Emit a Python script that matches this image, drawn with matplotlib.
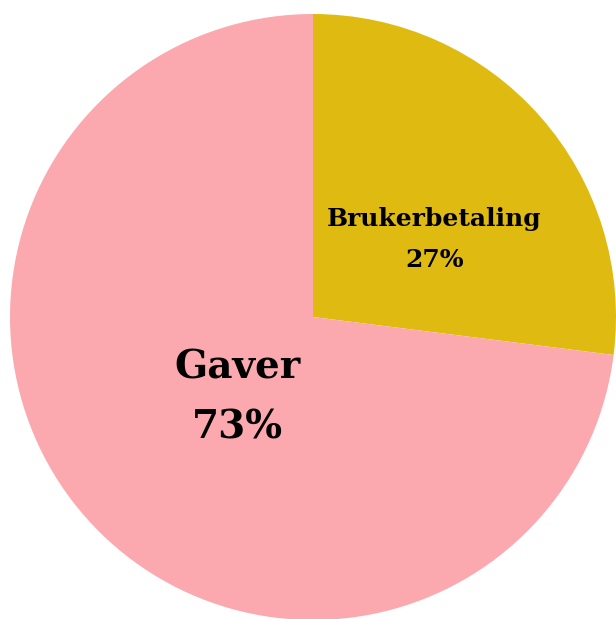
import matplotlib.pyplot as plt

labels = ['Brukerbetaling', 'Gaver']
values = [27, 73]
colors = ['#DFBB12', '#FBA9AF']

fig = plt.figure(figsize=(6.16, 6.19), dpi=100)
ax = fig.add_axes([0, 0, 1, 1])

r = 303
cx, cy = 313, 317
ax.pie(values, colors=colors, startangle=90, counterclock=False, radius=1,
       wedgeprops=dict(linewidth=0))
ax.set_aspect('auto')
ax.set_xlim(-cx / r, (616 - cx) / r)
ax.set_ylim(-(619 - cy) / r, cy / r)
ax.axis('off')

# label positions (axis units, pie radius = 1)
pos = [(0.40, 0.255), (-0.25, -0.265)]
sizes = [18, 28]
spacing = [1.9, 1.75]
for (x, y), lab, v, s, ls in zip(pos, labels, values, sizes, spacing):
    ax.text(x, y, f'{lab}\n{v}%', ha='center', va='center', fontsize=s,
            fontweight='heavy', family='DejaVu Serif', linespacing=ls)

fig.savefig('out.png', dpi=100)
